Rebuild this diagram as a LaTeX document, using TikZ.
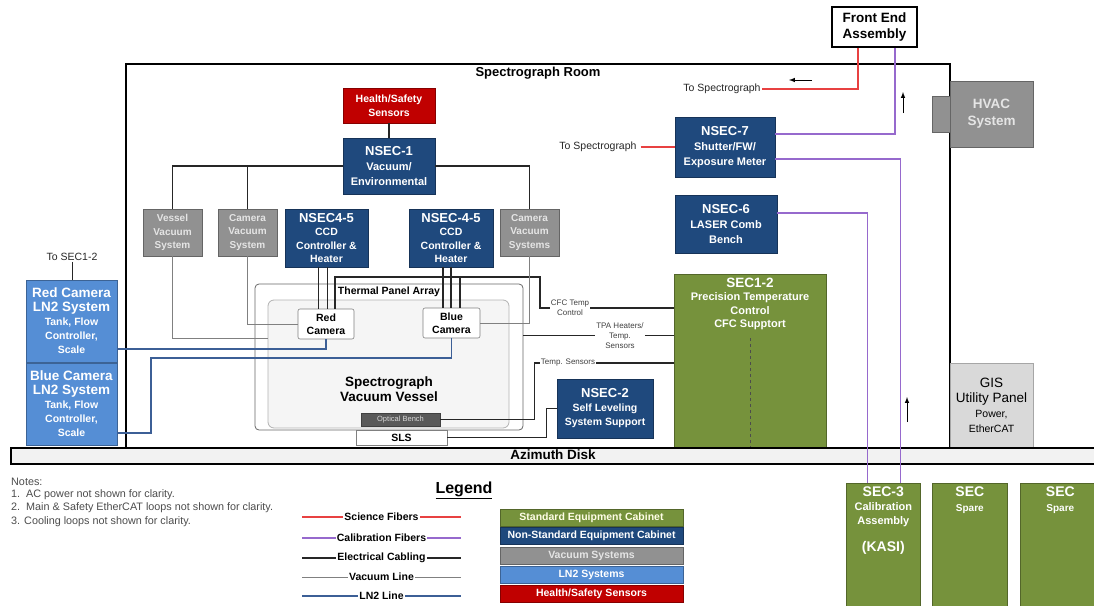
\documentclass[tikz,border=0pt]{standalone}
\usepackage{fontspec}
\setmainfont{Liberation Sans}
\definecolor{secgreen}{RGB}{118,146,60}
\definecolor{nsecblue}{RGB}{31,73,125}
\definecolor{vacgray}{RGB}{145,145,145}
\definecolor{lntwo}{RGB}{85,142,213}
\definecolor{hsred}{RGB}{192,0,0}
\definecolor{scired}{RGB}{232,65,65}
\definecolor{calpurple}{RGB}{150,105,205}
\definecolor{lncol}{RGB}{60,95,150}
\newcommand{\fsz}[2]{\fontsize{#1}{#2}\selectfont}
\tikzset{
  >=latex,
}
\tikzstyle{every node}=[font=\fsz{10.5}{15}, inner sep=1pt, text=black!85]
\tikzstyle{box}=[draw, align=center, line width=0.6pt, font=\fsz{11}{15}\bfseries]
\tikzstyle{nsec}=[box, fill=nsecblue, draw=nsecblue!70!black, text=white]
\tikzstyle{vacbox}=[box, fill=vacgray, draw=vacgray!70!black, text=white!90!black, font=\fsz{10}{13.5}\bfseries]
\tikzstyle{lnbox}=[box, fill=lntwo, draw=lntwo!70!black, text=white]
\tikzstyle{secbox}=[box, fill=secgreen, draw=secgreen!70!black, text=white]
\tikzstyle{hsbox}=[box, fill=hsred, draw=hsred!70!black, text=white]
\tikzstyle{cam}=[box, fill=white, draw=gray, rounded corners=2pt, font=\fsz{10.5}{13}\bfseries, text=black]
\tikzstyle{legbox}=[box, minimum width=183, minimum height=17, text=white, font=\fsz{10.5}{12}\bfseries]
\tikzstyle{tinytxt}=[font=\fsz{8}{10}, align=center, text=black!75]
\tikzstyle{notetxt}=[font=\fsz{10.8}{12}, anchor=west, text=black!70]
\tikzstyle{legtxt}=[font=\fsz{10.5}{12}\bfseries, text=black]
\tikzstyle{elec}=[line width=1.1pt, draw=black!85]
\tikzstyle{vacline}=[line width=0.8pt, draw=gray]
\tikzstyle{lnl}=[line width=1.1pt, draw=lncol]
\tikzstyle{sci}=[line width=1.3pt, draw=scired]
\tikzstyle{cal}=[line width=1.1pt, draw=calpurple]

\begin{document}
\begin{tikzpicture}[x=1pt,y=-1pt]
  \useasboundingbox (0,0) rectangle (1094,605);
  \clip (0,0) rectangle (1094,605);
  % spectrograph room
  \draw[line width=2pt] (126,447) |- (950,64) -- (950,447);
  \node[font=\fsz{13}{15}\bfseries, text=black] (room) at (538,73) {Spectrograph Room};
  \node[box, fill=white, draw=black, line width=1.5pt, text=black, minimum width=85, minimum height=40, font=\fsz{13.5}{16}\bfseries] (fea) at (874.5,27) {Front End\\Assembly};

  % cabinets and systems
  \node[hsbox, minimum width=92, minimum height=35, font=\fsz{10.5}{14}\bfseries] (hs) at (389,105.5) {Health/Safety\\Sensors};
  \node[nsec, minimum width=92, minimum height=56] (nsec1) at (389,166) {{\fsz{13}{15}NSEC-1}\\Vacuum/\\Environmental};
  \node[vacbox, minimum width=59, minimum height=47] (vvs) at (172.5,232.5) {Vessel\\Vacuum\\System};
  \node[vacbox, minimum width=59, minimum height=47] (cvs) at (247.5,232.5) {Camera\\Vacuum\\System};
  \node[vacbox, minimum width=59, minimum height=47] (cvs2) at (529.5,232.5) {Camera\\Vacuum\\Systems};
  \node[nsec, minimum width=83, minimum height=58, font=\fsz{10.5}{13.5}\bfseries] (ccdr) at (326.5,238) {{\fsz{13}{15}NSEC4-5}\\CCD\\Controller \&\\Heater};
  \node[nsec, minimum width=84, minimum height=58, font=\fsz{10.5}{13.5}\bfseries] (ccdb) at (451,238) {{\fsz{13}{15}NSEC-4-5}\\CCD\\Controller \&\\Heater};
  \node[nsec, minimum width=100, minimum height=60] (nsec7) at (725,147) {{\fsz{13}{15}NSEC-7}\\Shutter/FW/\\Exposure Meter};
  \node[nsec, minimum width=102, minimum height=58] (nsec6) at (726,224) {{\fsz{13}{15}NSEC-6}\\LASER Comb\\Bench};
  \node[nsec, minimum width=96, minimum height=59, font=\fsz{10.5}{14}\bfseries] (nsec2) at (605,408.5) {{\fsz{13}{15}NSEC-2}\\Self Leveling\\System Support};
  \fill[vacgray, draw=vacgray!70!black] (932,96) rectangle (950,132);
  \node[vacbox, minimum width=83, minimum height=66, font=\fsz{13.5}{17}\bfseries] (hvac) at (991.5,114) {HVAC\\System};
  \node[secbox, minimum width=152, minimum height=173, label={[anchor=north, yshift=-3pt, align=center, text=white, font=\fsz{11}{13.5}\bfseries]north:{{\fsz{13.5}{15}SEC1-2}\\Precision Temperature\\Control\\CFC Supptort}}] (sec12) at (750,360.5) {};
  \draw[dashed, black!70, line width=0.8pt] (sec12.north |- 0,338) -- (sec12.south);
  \node[box, fill=gray!30, draw=gray!70, text=black, font=\fsz{10.5}{15}, minimum width=83, minimum height=84] (gis) at (991.5,405) {{\fsz{13.5}{16}GIS}\\{\fsz{13.5}{16}Utility Panel}\\Power,\\EtherCAT};
  \node[lnbox, minimum width=91, minimum height=82, font=\fsz{10.5}{14}\bfseries] (lnr) at (71.5,321) {{\fsz{13.5}{15}Red Camera}\\{\fsz{13.5}{15}LN2 System}\\Tank, Flow\\Controller,\\Scale};
  \node[lnbox, minimum width=91, minimum height=82, font=\fsz{10.5}{14}\bfseries] (lnb) at (71.5,404) {{\fsz{13.5}{15}Blue Camera}\\{\fsz{13.5}{15}LN2 System}\\Tank, Flow\\Controller,\\Scale};
  \node (tosec) at (72,257) {To SEC1-2};

  % vessel
  \node[draw=gray!80!black, line width=0.8pt, rounded corners=4pt, minimum width=268, minimum height=146] (tpa) at (389,357) {};
  \node[draw=gray!60, fill=gray!8, line width=0.8pt, rounded corners=6pt, minimum width=241, minimum height=128] (vessel) at (388.5,364) {};
  \node[font=\fsz{10.5}{12}\bfseries, text=black] (tpatitle) at (389,292) {Thermal Panel Array};
  \node[font=\fsz{13.5}{15}\bfseries, align=center, text=black] (vvtitle) at (389,389.5) {Spectrograph\\Vacuum Vessel};
  \node[cam, minimum width=56, minimum height=30] (redcam) at (326,324) {Red\\Camera};
  \node[cam, minimum width=57, minimum height=30] (bluecam) at (451.5,323) {Blue\\Camera};
  \node[box, fill=black!65, draw=black!75, text=white!85!black, font=\fsz{7.5}{9}, minimum width=79, minimum height=13] (bench) at (400.5,419.5) {Optical Bench};
  \node[box, fill=white, draw=gray, text=black, minimum width=91, minimum height=15, font=\fsz{10.5}{12}\bfseries] (sls) at (401.5,437.5) {SLS};

  % azimuth disk
  \node[draw, line width=1.8pt, fill=gray!10, minimum width=1090, minimum height=16, anchor=north west] (disk) at (10,447) {};
  \node[font=\fsz{13.5}{15}\bfseries, text=black] (disklbl) at (553,455) {Azimuth Disk};
  \node[secbox, minimum width=74, minimum height=130, anchor=north west, label={[anchor=north, yshift=-3pt, align=center, text=white, font=\fsz{11}{14}\bfseries]north:{{\fsz{14}{15}SEC-3}\\Calibration\\Assembly\\[13pt]{\fsz{14}{15}(KASI)}}}] (sec3) at (846,483) {};
  \node[secbox, minimum width=75, minimum height=130, anchor=north west, label={[anchor=north, yshift=-3pt, align=center, text=white, font=\fsz{10}{15}\bfseries]north:{{\fsz{14}{15}SEC}\\Spare}}] (spare1) at (932,483) {};
  \node[secbox, minimum width=80, minimum height=130, anchor=north west, label={[anchor=north, yshift=-3pt, align=center, text=white, font=\fsz{10}{15}\bfseries]north:{{\fsz{14}{15}SEC}\\Spare}}] (spare2) at (1020,483) {};

  % electrical cabling
  \draw[elec] (hs) -- (nsec1);
  \draw[elec] (nsec1.west) -| (vvs.north);
  \draw[elec] (nsec1.west) -| (cvs.north);
  \draw[elec] (nsec1.east) -| (cvs2.north);
  \draw[elec, line width=0.8pt] (tosec.south) -- (tosec.south |- lnr.north);
  \draw[elec] ([xshift=-8pt]ccdr.south) -- ([xshift=-8pt]ccdr.south |- redcam.north);
  \draw[elec] ([xshift=1pt]ccdr.south) -- ([xshift=1pt]ccdr.south |- redcam.north);
  \draw[elec] ([xshift=-8pt]ccdb.south) -- ([xshift=-8pt]ccdb.south |- bluecam.north);
  \draw[elec] (ccdb.south) -- (ccdb.south |- bluecam.north);
  \coordinate (cfcbus) at (540,277);
  \node[tinytxt] (cfctxt) at (570,308) {CFC Temp\\Control};
  \draw[elec] ([xshift=9pt]redcam.north) |- (cfcbus) |- (cfctxt.west);
  \draw[elec] ([xshift=8.5pt]bluecam.north) -- ([xshift=8.5pt]bluecam.north |- cfcbus);
  \draw[elec] (cfctxt.east) -- (cfctxt.east -| sec12.west);
  \node[tinytxt] (tpatxt) at (620,335.5) {TPA Heaters/\\Temp.\\Sensors};
  \draw[elec] (tpa.east |- tpatxt) -- (tpatxt.west);
  \draw[elec] (tpatxt.east) -- (tpatxt.east -| sec12.west);
  \node[tinytxt] (tstxt) at (568,363) {Temp. Sensors};
  \draw[elec] (bench.east) -| ([xshift=-5pt]tstxt.west) -- (tstxt.west);
  \draw[elec] (tstxt.east) -- (tstxt.east -| sec12.west);
  \draw[elec] (sls.east) -| ([xshift=-10pt]nsec2.west) -- (nsec2.west);

  % vacuum lines
  \draw[vacline] (vvs.south) |- (vessel.west |- 0,338);
  \draw[vacline] (cvs.south) |- (redcam.west);
  \draw[vacline] (cvs2.south) |- (bluecam.east);

  % LN2 lines
  \draw[lnl] (lnr.east |- 0,349) -| (redcam.south);
  \draw[lnl] (lnb.east |- 0,433) -| (151,358) -| (bluecam.south);

  % science fibers
  \node (tospec1) at (722,89) {To Spectrograph};
  \draw[sci] ([xshift=-16.5pt]fea.south) |- (tospec1.east);
  \node (tospec2) at (598,147) {To Spectrograph};
  \draw[sci] ([xshift=3pt]tospec2.east) -- (nsec7.west);
  \draw[->, line width=1pt] (812,80) -- (789,80);

  % calibration fibers
  \draw[cal] ([xshift=20.5pt]fea.south) |- ([yshift=13pt]nsec7.east);
  \draw[cal] ([yshift=-12pt]nsec7.east) -| ([xshift=17pt]sec3.north);
  \draw[cal] ([yshift=11pt]nsec6.east) -| ([xshift=-16pt]sec3.north);
  \draw[->, line width=1pt] (903,113) -- (903,92);
  \draw[->, line width=1pt] (907,422) -- (907,397);

  % notes
  \node[notetxt] (n0) at (10,482) {Notes:};
  \node[notetxt] (n1) at (10,494.5) {1.\ \ AC power not shown for clarity.};
  \node[notetxt] (n2) at (10,508) {2.\ \ Main \& Safety EtherCAT loops not shown for clarity.};
  \node[notetxt] (n3) at (10,521.5) {3. Cooling loops not shown for clarity.};

  % legend
  \node[font=\fsz{16}{18}\bfseries, text=black] (legend) at (464,490) {\underline{Legend}};
  \node[legtxt] (lsci) at (381.5,517) {Science Fibers};
  \draw[sci] (302,517) -- (lsci.west) (lsci.east) -- (461,517);
  \node[legtxt] (lcal) at (381.5,538) {Calibration Fibers};
  \draw[cal] (302,538) -- (lcal.west) (lcal.east) -- (461,538);
  \node[legtxt] (lele) at (381.5,558) {Electrical Cabling};
  \draw[elec] (302,558) -- (lele.west) (lele.east) -- (461,558);
  \node[legtxt] (lvl) at (381.5,577) {Vacuum Line};
  \draw[vacline] (302,577) -- (lvl.west) (lvl.east) -- (461,577);
  \node[legtxt] (lnt) at (381.5,596) {LN2 Line};
  \draw[lnl] (302,596) -- (lnt.west) (lnt.east) -- (461,596);
  \node[legbox, fill=secgreen, draw=secgreen!70!black, text=white!90!yellow] (lstd) at (591.5,517.5) {Standard Equipment Cabinet};
  \node[legbox, fill=nsecblue, draw=nsecblue!70!black] (lnon) at (591.5,535.5) {Non-Standard Equipment Cabinet};
  \node[legbox, fill=vacgray, draw=vacgray!70!black, text=white!90!black] (lvac) at (591.5,555.5) {Vacuum Systems};
  \node[legbox, fill=lntwo, draw=lntwo!70!black] (lln) at (591.5,574.5) {LN2 Systems};
  \node[legbox, fill=hsred, draw=hsred!70!black] (lhs) at (591.5,593.5) {Health/Safety Sensors};
\end{tikzpicture}
\end{document}
